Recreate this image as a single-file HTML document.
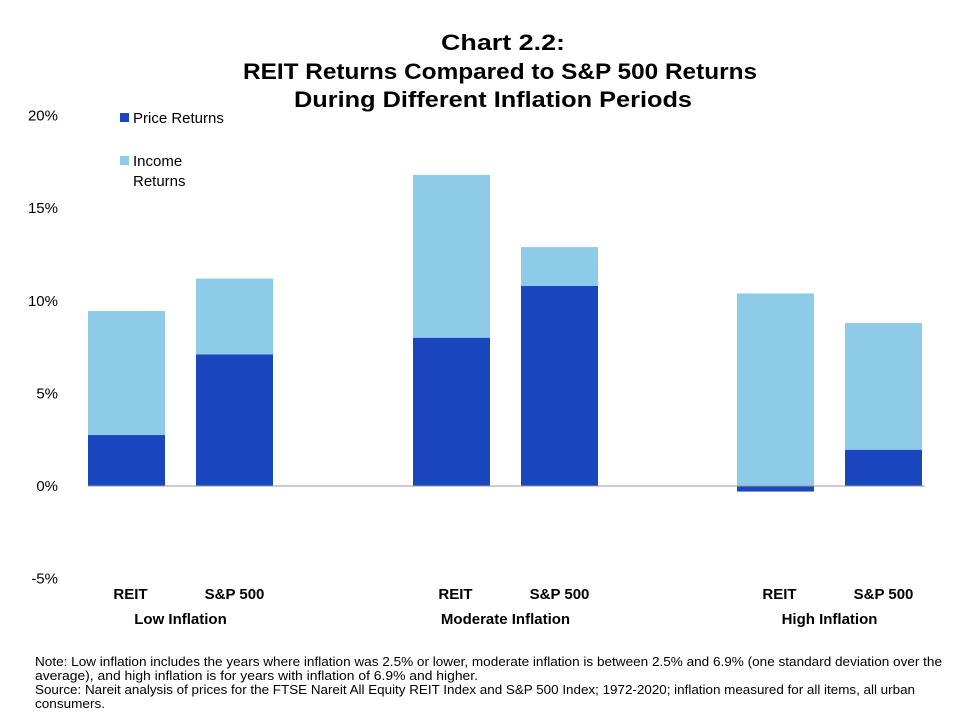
<!DOCTYPE html>
<html><head><meta charset="utf-8"><style>
body{margin:0;background:#fff;font-family:"Liberation Sans",Arial,sans-serif}
svg text{font-family:"Liberation Sans",Arial,sans-serif}
</style></head><body>
<svg id="chart" width="980" height="720" viewBox="0 0 980 720" xmlns="http://www.w3.org/2000/svg">
<g font-weight="bold" font-size="22.5" fill="#000">
<text x="441" y="50" textLength="124" lengthAdjust="spacingAndGlyphs">Chart 2.2:</text>
<text x="243" y="79" textLength="514" lengthAdjust="spacingAndGlyphs">REIT Returns Compared to S&amp;P 500 Returns</text>
<text x="294" y="107" textLength="398" lengthAdjust="spacingAndGlyphs">During Different Inflation Periods</text>
</g>
<g id="yaxis"></g>
<g id="bars"></g>
<line x1="88" x2="925" y1="486" y2="486" stroke="#999" stroke-width="1"/>
<g id="xlabels"></g>
<g font-size="15" fill="#000">
<rect x="120" y="113" width="9" height="9" fill="#1a46be"/>
<text x="133" y="123">Price Returns</text>
<rect x="120" y="156" width="9" height="9" fill="#8ecbe8"/>
<text x="133" y="166">Income</text>
<text x="133" y="186">Returns</text>
</g>
<g font-size="12.5" fill="#000">
<text x="35" y="666" textLength="907" lengthAdjust="spacingAndGlyphs">Note: Low inflation includes the years where inflation was 2.5% or lower, moderate inflation is between 2.5% and 6.9% (one standard deviation over the</text>
<text x="35" y="680" textLength="443" lengthAdjust="spacingAndGlyphs">average), and high inflation is for years with inflation of 6.9% and higher.</text>
<text x="35" y="694" textLength="880" lengthAdjust="spacingAndGlyphs">Source: Nareit analysis of prices for the FTSE Nareit All Equity REIT Index and S&amp;P 500 Index; 1972-2020; inflation measured for all items, all urban</text>
<text x="35" y="708" textLength="70" lengthAdjust="spacingAndGlyphs">consumers.</text>
</g>
</svg>
<script>
const categories=["REIT","S&P 500","REIT","S&P 500","REIT","S&P 500"];
const groups=["Low Inflation","Moderate Inflation","High Inflation"];
const priceReturns=[2.75,7.1,8.0,10.8,-0.3,1.95];
const incomeReturns=[6.7,4.1,8.8,2.1,10.4,6.85];
const yTicks=[20,15,10,5,0,-5];
const NS="http://www.w3.org/2000/svg";
function y(v){return 486-v*18.52;}
const barX=[88,196,413,521,737,845],bw=77;
function mk(t,a,p){const e=document.createElementNS(NS,t);for(const k in a)e.setAttribute(k,a[k]);p.appendChild(e);return e;}
const ya=document.getElementById('yaxis');
yTicks.forEach(t=>{const e=mk('text',{x:58,y:y(t)+5,'text-anchor':'end','font-size':15},ya);e.textContent=t+'%';

});
const bg=document.getElementById('bars');
categories.forEach((c,i)=>{
 const p=priceReturns[i],inc=incomeReturns[i];
 const base=Math.max(p,0);
 const r2=mk('rect',{x:barX[i],y:y(base+inc),width:bw,height:y(base)-y(base+inc),fill:'#8ecbe8'},bg);
 
 
 const r1=mk('rect',{x:barX[i],y:Math.min(y(p),y(0)),width:bw,height:Math.abs(y(0)-y(p)),fill:'#1a46be'},bg);
 
 
});
const xl=document.getElementById('xlabels');
categories.forEach((c,i)=>{const off=(i%2===0)?4:0;const e=mk('text',{x:barX[i]+bw/2+off,y:599,'text-anchor':'middle','font-size':15,'font-weight':'bold'},xl);e.textContent=c;

});
groups.forEach((g,j)=>{const cx=(barX[2*j]+barX[2*j+1]+bw)/2;const e=mk('text',{x:cx,y:624,'text-anchor':'middle','font-size':15,'font-weight':'bold'},xl);e.textContent=g;

});
</script>
</body></html>
